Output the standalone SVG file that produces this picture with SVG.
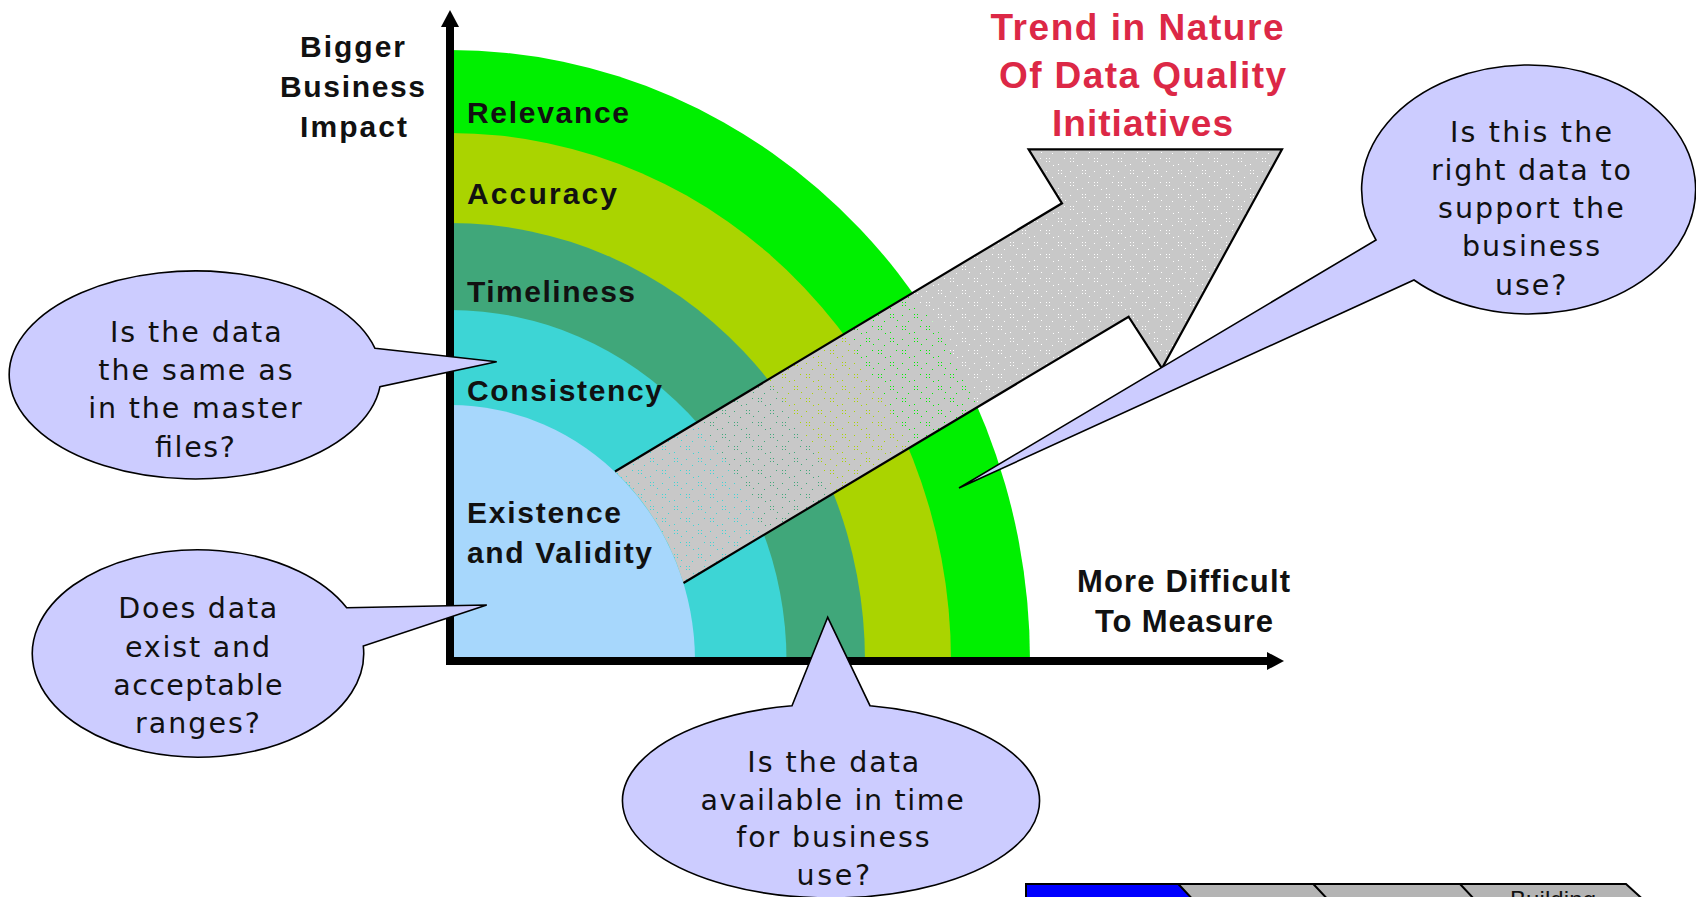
<svg xmlns="http://www.w3.org/2000/svg" width="1696" height="897" viewBox="0 0 1696 897">
<style>
.lbl{font-family:"Liberation Sans",Arial,sans-serif;font-weight:bold;font-size:30px;fill:#111}
.ttl{font-family:"Liberation Sans",Arial,sans-serif;font-weight:bold;font-size:37px;fill:#DC2846}
.co{fill:#CCCCFF;stroke:#000;stroke-width:1.6;stroke-linejoin:miter}
.ct{font-family:"DejaVu Sans",Verdana,sans-serif;font-size:28.5px;fill:#111}
.ax{stroke:#000;stroke-width:8;fill:none}
.tab{stroke:#000;stroke-width:2}
</style>
<defs>
<pattern id="dots" width="24" height="24" patternUnits="userSpaceOnUse">
<rect width="24" height="24" fill="#fff"/>
<g fill="#000">
<rect x="2" y="2" width="1" height="1"/><rect x="5" y="2" width="1" height="1"/>
<rect x="2" y="5" width="1" height="1"/><rect x="5" y="5" width="1" height="1"/>
<rect x="14" y="3" width="1" height="1"/><rect x="20" y="9" width="1" height="1"/>
<rect x="8" y="14" width="1" height="1"/><rect x="14" y="14" width="1" height="1"/>
<rect x="17" y="14" width="1" height="1"/><rect x="14" y="17" width="1" height="1"/>
<rect x="17" y="17" width="1" height="1"/><rect x="2" y="20" width="1" height="1"/>
<rect x="21" y="21" width="1" height="1"/><rect x="9" y="8" width="1" height="1"/>
</g>
</pattern>
<mask id="arrowMask" maskUnits="userSpaceOnUse" x="0" y="0" width="1696" height="897">
<rect width="1696" height="897" fill="url(#dots)"/>
</mask>
</defs>
<rect width="1696" height="897" fill="#fff"/>

<g id="bands">
<path d="M450 661 L450 50 A580 611 0 0 1 1030 661 Z" fill="#00F000"/>
<path d="M450 661 L450 133 A501 528 0 0 1 951 661 Z" fill="#AAD400"/>
<path d="M450 661 L450 223 A415 438 0 0 1 865 661 Z" fill="#40A77A"/>
<path d="M450 661 L450 310 A336.5 351 0 0 1 786.5 661 Z" fill="#3DD5D5"/>
<path d="M450 661 L450 405 A245 256 0 0 1 695 661 Z" fill="#A7D7FC"/>
</g>

<g id="trend-arrow">
<path d="M683.5 583 L1128.6 316.7 L1162 368.3 L1282 149.3 L1028.6 149.3 L1062 203.3 L615 471.5 A245 256 0 0 1 683.5 583 Z" fill="#C8C8C8" mask="url(#arrowMask)"/>
<path d="M683.5 583 L1128.6 316.7 L1162 368.3 L1282 149.3 L1028.6 149.3 L1062 203.3 L615 471.5" fill="none" stroke="#000" stroke-width="2.2" stroke-linejoin="miter"/>
</g>

<g id="connectors">
<line class="ax" x1="450" y1="665" x2="450" y2="24"/>
<polygon points="450,10 441,27 459,27" fill="#000"/>
<line class="ax" x1="446" y1="661" x2="1270" y2="661"/>
<polygon points="1284,661 1267,652 1267,670" fill="#000"/>
</g>

<g id="band-labels">
<text class="lbl" x="467" y="123" textLength="162" lengthAdjust="spacing">Relevance</text>
<text class="lbl" x="467" y="204" textLength="150" lengthAdjust="spacing">Accuracy</text>
<text class="lbl" x="467" y="302" textLength="168" lengthAdjust="spacing">Timeliness</text>
<text class="lbl" x="467" y="400.5" textLength="195" lengthAdjust="spacing">Consistency</text>
<text class="lbl" x="467" y="523" textLength="154" lengthAdjust="spacing">Existence</text>
<text class="lbl" x="467" y="562.5" textLength="185" lengthAdjust="spacing">and Validity</text>
</g>

<g id="y-axis-label">
<text class="lbl" x="300" y="57" textLength="105" lengthAdjust="spacing">Bigger</text>
<text class="lbl" x="280" y="97" textLength="145" lengthAdjust="spacing">Business</text>
<text class="lbl" x="300" y="137" textLength="107" lengthAdjust="spacing">Impact</text>
</g>

<g id="x-axis-label">
<text class="lbl" style="font-size:31px" x="1077" y="592" textLength="213" lengthAdjust="spacing">More Difficult</text>
<text class="lbl" style="font-size:31px" x="1095" y="632" textLength="178" lengthAdjust="spacing">To Measure</text>
</g>

<g id="title">
<text class="ttl" x="990.5" y="40" textLength="293" lengthAdjust="spacing">Trend in Nature</text>
<text class="ttl" x="999" y="88" textLength="287" lengthAdjust="spacing">Of Data Quality</text>
<text class="ttl" x="1052" y="135.5" textLength="181" lengthAdjust="spacing">Initiatives</text>
</g>

<g id="callout-consistency">
<path class="co" d="M375 348.3 L496.7 361.7 L380 386.7 A186 104 0 1 1 375 348.3 Z"/>
<text class="ct" x="110" y="341.7" textLength="171.7" lengthAdjust="spacing">Is the data</text>
<text class="ct" x="98.3" y="380" textLength="194.3" lengthAdjust="spacing">the same as</text>
<text class="ct" x="88.3" y="418.3" textLength="213.3" lengthAdjust="spacing">in the master</text>
<text class="ct" x="155" y="456.7" textLength="80" lengthAdjust="spacing">files?</text>
</g>

<g id="callout-existence">
<path class="co" d="M346.7 607.7 L486.7 605 L363.3 646 A165.7 103.7 0 1 1 346.7 607.7 Z"/>
<text class="ct" x="118.3" y="618.3" textLength="159" lengthAdjust="spacing">Does data</text>
<text class="ct" x="125" y="656.6" textLength="145" lengthAdjust="spacing">exist and</text>
<text class="ct" x="113.3" y="695" textLength="169.3" lengthAdjust="spacing">acceptable</text>
<text class="ct" x="135" y="733.3" textLength="125" lengthAdjust="spacing">ranges?</text>
</g>

<g id="callout-timeliness">
<path class="co" d="M792 705.7 L827.7 617.3 L870 705.7 A208.5 97 0 1 1 792 705.7 Z"/>
<text class="ct" x="747.3" y="771.7" textLength="172" lengthAdjust="spacing">Is the data</text>
<text class="ct" x="700.4" y="809.5" textLength="263.4" lengthAdjust="spacing">available in time</text>
<text class="ct" x="736.2" y="847.3" textLength="193.3" lengthAdjust="spacing">for business</text>
<text class="ct" x="796.4" y="885" textLength="73.7" lengthAdjust="spacing">use?</text>
</g>

<g id="callout-relevance">
<path class="co" d="M1376 240 L959 488 L1414 280 A167 124.5 0 1 0 1376 240 Z"/>
<text class="ct" x="1450" y="141.7" textLength="162" lengthAdjust="spacing">Is this the</text>
<text class="ct" x="1431" y="180" textLength="200" lengthAdjust="spacing">right data to</text>
<text class="ct" x="1438" y="218" textLength="185.7" lengthAdjust="spacing">support the</text>
<text class="ct" x="1462" y="256" textLength="138" lengthAdjust="spacing">business</text>
<text class="ct" x="1495" y="295" textLength="71.4" lengthAdjust="spacing">use?</text>
</g>

<g id="tabs">
<polygon points="1178.3,884 1313.3,884 1328.3,900 1193.3,900" fill="#B4B4B4"/>
<polygon points="1313.3,884 1460,884 1475,900 1328.3,900" fill="#B4B4B4"/>
<polygon points="1460,884 1626,884 1643.6,900 1475,900" fill="#B4B4B4"/>
<polygon points="1026,884 1178.3,884 1193.3,900 1026,900" fill="#0000FF"/>
<text x="1510" y="908" font-family="'Liberation Sans',Arial,sans-serif" font-size="24" fill="#111" textLength="86" lengthAdjust="spacing">Building</text>
<path class="tab" fill="none" d="M1026 900 L1026 884 L1626 884 L1643.6 900 M1178.3 884 L1193.3 900 M1313.3 884 L1328.3 900 M1460 884 L1475 900"/>
</g>
</svg>
